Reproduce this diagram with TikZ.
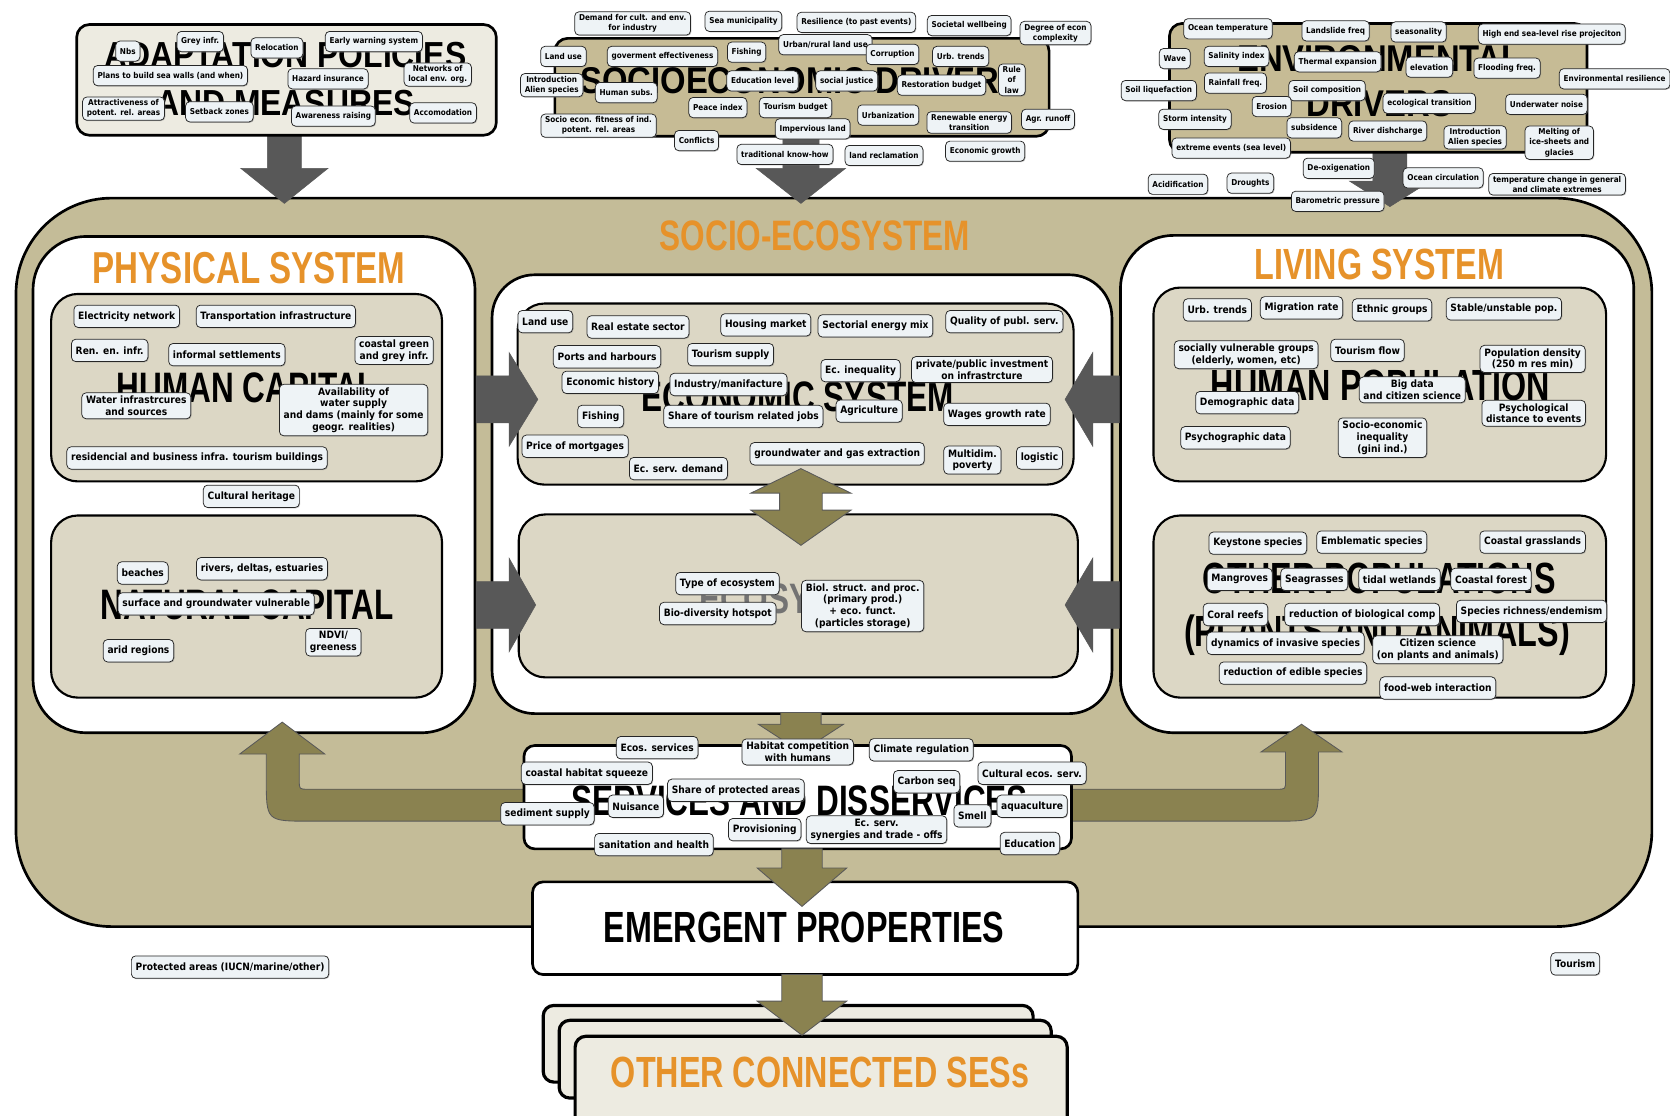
\documentclass[tikz,border=0pt]{standalone}
\usepackage{fontspec}
\usepackage{graphicx}
\setmainfont{DejaVu Sans}
\newfontfamily\lblfont{DejaVu Sans}[FakeStretch=0.9]
\newfontfamily\ttlfont{Liberation Sans}
\usetikzlibrary{shadows}
\definecolor{tanO}{HTML}{C4BC98}
\definecolor{tanD}{HTML}{C6BB95}
\definecolor{beigeP}{HTML}{DCD7C5}
\definecolor{creamP}{HTML}{EDEBE1}
\definecolor{lblfill}{HTML}{EEF3F6}
\definecolor{olivearr}{HTML}{8A8250}
\definecolor{darkarr}{HTML}{585858}
\definecolor{orangeT}{HTML}{E6922A}
\newcommand{\BigT}[3]{\scalebox{#1}[1]{\ttlfont\bfseries\fontsize{#2}{#2}\selectfont #3}}
\newcommand{\DArrow}[7]{\filldraw[#1] ({#2-#6},#3) -- ({#2+#6},#3) -- ({#2+#6},#4) -- ({#2+#7},#4) -- (#2,#5) -- ({#2-#7},#4) -- ({#2-#6},#4) -- cycle;}
\newcommand{\HArrow}[7]{\filldraw[#1] (#3,{#2-#6}) -- (#4,{#2-#6}) -- (#4,{#2-#7}) -- (#5,#2) -- (#4,{#2+#7}) -- (#4,{#2+#6}) -- (#3,{#2+#6}) -- cycle;}
\begin{document}
\begin{tikzpicture}[x=1pt,y=-1pt,
  lbl/.style={draw=black!85, line width=0.7pt, fill=lblfill, rounded corners=4pt,
    font=\lblfont\bfseries\fontsize{9.5}{11}\selectfont, align=center,
    inner xsep=4pt, inner ysep=3pt, minimum height=21pt,
    drop shadow={shadow xshift=0.8pt, shadow yshift=-0.8pt, fill=black!50}},
  slbl/.style={lbl, font=\lblfont\bfseries\fontsize{7.6}{9.5}\selectfont, minimum height=19pt, inner ysep=2.5pt},
  bt/.style={inner sep=0pt},
  darkA/.style={fill=darkarr, draw=darkarr, line width=0.5pt},
  oliveA/.style={fill=olivearr, draw=black!65, line width=0.8pt},
  bigbox/.style={draw=black, line width=2.5pt},
  subpanel/.style={draw=black, line width=2pt, fill=beigeP, rounded corners=25pt}
]
\useasboundingbox (0,0) rectangle (1568,1047);
\clip (0,0) rectangle (1568,1047);
\fill[white] (0,0) rectangle (1568,1047);

% outer socio-ecosystem
\filldraw[bigbox, fill=tanO, rounded corners=90pt] (15,186) rectangle (1551,870);
\node[bt, text=orangeT] (tSES) at (765,221) {\BigT{0.74}{40}{SOCIO-ECOSYSTEM}};

% top dark arrows
\DArrow{darkA}{267}{120}{158}{191}{16}{41}
\DArrow{darkA}{752}{120}{158}{191}{17}{42}
\DArrow{darkA}{1305}{140}{170}{194}{16}{38}

% top boxes
\filldraw[bigbox, fill=creamP, rounded corners=12pt] (72,23) rectangle (466,127);
\node[bt] (tAP1) at (268,52) {\BigT{0.88}{34}{ADAPTATION POLICIES}};
\node[bt] (tAP2) at (268,97) {\BigT{0.88}{34}{AND MEASURES}};
\filldraw[bigbox, fill=tanD, rounded corners=12pt] (521,36) rectangle (985,128);
\node[bt] (tSD) at (752,76) {\BigT{0.88}{35}{SOCIOECONOMIC DRIVERS}};
\filldraw[bigbox, fill=tanD, rounded corners=12pt] (1098,22) rectangle (1490,143);
\node[bt] (tED1) at (1295,55) {\BigT{0.88}{35}{ENVIRONMENTAL}};
\node[bt] (tED2) at (1295,97) {\BigT{0.88}{35}{DRIVERS}};

% white panels
\filldraw[bigbox, fill=white, rounded corners=50pt] (31,222) rectangle (446,688);
\filldraw[bigbox, fill=white, rounded corners=40pt] (462,258) rectangle (1044,670);
\filldraw[bigbox, fill=white, rounded corners=50pt] (1052,221) rectangle (1534,688);
\node[bt, text=orangeT] (tPS) at (234,252) {\BigT{0.74}{42}{PHYSICAL SYSTEM}};
\node[bt, text=orangeT] (tLS) at (1295,248) {\BigT{0.74}{41}{LIVING SYSTEM}};

% sub panels
\filldraw[subpanel] (48,276) rectangle (415,452);
\filldraw[subpanel] (48,484) rectangle (415,655);
\filldraw[subpanel] (486,285) rectangle (1008,455);
\filldraw[subpanel] (487,483) rectangle (1012,636);
\filldraw[subpanel] (1083,270) rectangle (1508,452);
\filldraw[subpanel] (1083,484) rectangle (1508,655);
\node[bt] (tHC) at (232,364) {\BigT{0.74}{40}{HUMAN CAPITAL}};
\node[bt] (tNC) at (232,568) {\BigT{0.74}{40}{NATURAL CAPITAL}};
\node[bt] (tES) at (749,373) {\BigT{0.74}{40}{ECONOMIC SYSTEM}};
\node[bt, text=black!55] (tEC) at (750,562) {\BigT{0.74}{40}{ECOSYSTEM}};
\node[bt] (tHP) at (1296,362) {\BigT{0.74}{41}{HUMAN POPULATION}};
\node[bt] (tOP1) at (1295,543) {\BigT{0.74}{41}{OTHER POPULATIONS}};
\node[bt] (tOP2) at (1293,596) {\BigT{0.74}{41}{(PLANTS AND ANIMALS)}};

% curved olive arrows
\filldraw[oliveA] (225,708) -- (265,678) -- (305,708) -- (281,708) -- (281,733) .. controls (281,741) .. (289,741) -- (500,741) -- (500,771) -- (290,771) .. controls (250,771) .. (250,731) -- (250,708) -- cycle;
\filldraw[oliveA] (1260,706) -- (1222,680) -- (1184,706) -- (1207,706) -- (1207,733) .. controls (1207,741) .. (1199,741) -- (1000,741) -- (1000,771) -- (1198,771) .. controls (1238,771) .. (1238,731) -- (1238,706) -- cycle;

% side dark arrows
\HArrow{darkA}{375}{447}{478}{505}{22}{44}
\HArrow{darkA}{568}{447}{478}{503}{22}{44}
\HArrow{darkA}{375}{1051}{1026}{1000}{22}{44}
\HArrow{darkA}{568}{1051}{1026}{1000}{22}{44}

% double olive arrow
\filldraw[oliveA] (752,440) -- (799,463) -- (772,463) -- (772,479) -- (799,479) -- (752,512) -- (705,479) -- (732,479) -- (732,463) -- (705,463) -- cycle;

% services box
\filldraw[bigbox, fill=white, rounded corners=10pt] (492,700) rectangle (1006,797);
\node[bt] (tSV) at (751,752) {\BigT{0.74}{40}{SERVICES AND DISSERVICES}};
\DArrow{oliveA}{752}{669}{680}{706}{19}{40}

% emergent properties
\filldraw[bigbox, fill=white, rounded corners=10pt] (500,828) rectangle (1012,915);
\node[bt] (tEP) at (755,871) {\BigT{0.74}{41}{EMERGENT PROPERTIES}};

% other connected SESs
\filldraw[draw=black, line width=3pt, fill=creamP, rounded corners=10pt] (510,944) rectangle (970,1016);
\filldraw[draw=black, line width=3pt, fill=creamP, rounded corners=10pt] (525,958) rectangle (987,1031);
\filldraw[draw=black, line width=3pt, fill=creamP, rounded corners=10pt] (540,973) rectangle (1002,1070);
\node[bt, text=orangeT] (tOC) at (770,1007) {\BigT{0.74}{41}{OTHER CONNECTED SESs}};

\DArrow{oliveA}{753}{797}{815}{851}{19}{42}
\DArrow{oliveA}{753}{915}{940}{972}{19}{42}

% ---------- labels: adaptation ----------
\node[slbl] (a1) at (120,48) {Nbs};
\node[slbl] (a2) at (188,39) {Grey infr.};
\node[slbl] (a3) at (260,45) {Relocation};
\node[slbl] (a4) at (351,39) {Early warning system};
\node[slbl] (a5) at (160,71) {Plans to build sea walls (and when)};
\node[slbl] (a6) at (308,74) {Hazard insurance};
\node[slbl] (a7) at (411,70) {Networks of\\local env. org.};
\node[slbl] (a8) at (116,102) {Attractiveness of\\potent. rel. areas};
\node[slbl] (a9) at (206,105) {Setback zones};
\node[slbl] (a10) at (313,109) {Awareness raising};
\node[slbl] (a11) at (416,106) {Accomodation};

% ---------- labels: socioeconomic ----------
\node[slbl] (s1) at (594,22) {Demand for cult. and env.\\for industry};
\node[slbl] (s2) at (698,20) {Sea municipality};
\node[slbl] (s3) at (804,21) {Resilience (to past events)};
\node[slbl] (s4) at (910,24) {Societal wellbeing};
\node[slbl] (s5) at (991,31) {Degree of econ\\complexity};
\node[slbl] (s6) at (775,42) {Urban/rural land use};
\node[slbl] (s7) at (529,53) {Land use};
\node[slbl] (s8) at (622,53) {goverment effectiveness};
\node[slbl] (s9) at (701,49) {Fishing};
\node[slbl] (s10) at (838,51) {Corruption};
\node[slbl] (s11) at (902,53) {Urb. trends};
\node[slbl] (s12) at (950,75) {Rule\\of\\law};
\node[slbl] (s13) at (518,80) {Introduction\\Alien species};
\node[slbl] (s14) at (588,87) {Human subs.};
\node[slbl] (s15) at (716,76) {Education level};
\node[slbl] (s16) at (795,76) {social justice};
\node[slbl] (s17) at (884,80) {Restoration budget};
\node[slbl] (s18) at (674,101) {Peace index};
\node[slbl] (s19) at (747,101) {Tourism budget};
\node[slbl] (s20) at (834,108) {Urbanization};
\node[slbl] (s21) at (910,115) {Renewable energy\\transition};
\node[slbl] (s22) at (984,112) {Agr. runoff};
\node[slbl] (s23) at (562,118) {Socio econ. fitness of ind.\\potent. rel. areas};
\node[slbl] (s24) at (763,121) {Impervious land};
\node[slbl] (s25) at (654,132) {Conflicts};
\node[slbl] (s26) at (737,145) {traditional know-how};
\node[slbl] (s27) at (830,146) {land reclamation};
\node[slbl] (s28) at (925,142) {Economic growth};

% ---------- labels: environmental ----------
\node[slbl] (e1) at (1153,27) {Ocean temperature};
\node[slbl] (e2) at (1254,29) {Landslide freq};
\node[slbl] (e3) at (1332,30) {seasonality};
\node[slbl] (e4) at (1457,32) {High end sea-level rise projeciton};
\node[slbl] (e5) at (1103,55) {Wave};
\node[slbl] (e6) at (1161,53) {Salinity index};
\node[slbl] (e7) at (1256,58) {Thermal expansion};
\node[slbl] (e8) at (1342,63) {elevation};
\node[slbl] (e9) at (1415,64) {Flooding freq.};
\node[slbl] (e10) at (1516,74) {Environmental resilience};
\node[slbl] (e11) at (1088,85) {Soil liquefaction};
\node[slbl] (e12) at (1160,78) {Rainfall freq.};
\node[slbl] (e13) at (1246,85) {Soil composition};
\node[slbl] (e14) at (1194,100) {Erosion};
\node[slbl] (e15) at (1342,97) {ecological transition};
\node[slbl] (e16) at (1452,98) {Underwater noise};
\node[slbl] (e17) at (1122,112) {Storm intensity};
\node[slbl] (e18) at (1234,120) {subsidence};
\node[slbl] (e19) at (1303,123) {River dishcharge};
\node[slbl] (e20) at (1385,129) {Introduction\\Alien species};
\node[slbl] (e21) at (1464,134) {Melting of\\ice-sheets and\\glacies};
\node[slbl] (e22) at (1156,139) {extreme events (sea level)};
\node[slbl] (e23) at (1257,158) {De-oxigenation};
\node[slbl] (e24) at (1355,167) {Ocean circulation};
\node[slbl] (e25) at (1462,173) {temperature change in general\\and climate extremes};
\node[slbl] (e26) at (1106,173) {Acidification};
\node[slbl] (e27) at (1174,172) {Droughts};
\node[slbl] (e28) at (1256,189) {Barometric pressure};

% ---------- labels: physical ----------
\node[lbl] (p1) at (119,297) {Electricity network};
\node[lbl] (p2) at (259,297) {Transportation infrastructure};
\node[lbl] (p3) at (103,329) {Ren. en. infr.};
\node[lbl] (p4) at (213,333) {informal settlements};
\node[lbl] (p5) at (370,329) {coastal green\\and grey infr.};
\node[lbl] (p6) at (128,381) {Water infrastrcures\\and sources};
\node[lbl] (p7) at (332,385) {Availability of\\water supply\\and dams (mainly for some\\geogr. realities)};
\node[lbl] (p8) at (185,430) {residencial and business infra. tourism buildings};
\node[lbl] (p9) at (236,466) {Cultural heritage};
\node[lbl] (p10) at (134,538) {beaches};
\node[lbl] (p11) at (246,534) {rivers, deltas, estuaries};
\node[lbl] (p12) at (203,567) {surface and groundwater vulnerable};
\node[lbl] (p13) at (130,611) {arid regions};
\node[lbl] (p14) at (313,603) {NDVI/\\greeness};

% ---------- labels: economic ----------
\node[lbl] (c1) at (512,302) {Land use};
\node[lbl] (c2) at (599,307) {Real estate sector};
\node[lbl] (c3) at (719,305) {Housing market};
\node[lbl] (c4) at (822,306) {Sectorial energy mix};
\node[lbl] (c5) at (943,302) {Quality of publ. serv.};
\node[lbl] (c6) at (570,335) {Ports and harbours};
\node[lbl] (c7) at (686,333) {Tourism supply};
\node[lbl] (c8) at (808,348) {Ec. inequality};
\node[lbl] (c9) at (922,347) {private/public investment\\on infrastrcture};
\node[lbl] (c10) at (573,359) {Economic history};
\node[lbl] (c11) at (684,361) {Industry/manifacture};
\node[lbl] (c12) at (564,391) {Fishing};
\node[lbl] (c13) at (698,391) {Share of tourism related jobs};
\node[lbl] (c14) at (816,386) {Agriculture};
\node[lbl] (c15) at (936,389) {Wages growth rate};
\node[lbl] (c16) at (540,419) {Price of mortgages};
\node[lbl] (c17) at (637,440) {Ec. serv. demand};
\node[lbl] (c18) at (786,426) {groundwater and gas extraction};
\node[lbl] (c19) at (913,432) {Multidim.\\poverty};
\node[lbl] (c20) at (976,430) {logistic};

% ---------- labels: ecosystem ----------
\node[lbl] (y1) at (683,548) {Type of ecosystem};
\node[lbl] (y2) at (674,576) {Bio-diversity hotspot};
\node[lbl] (y3) at (810,569) {Biol. struct. and proc.\\(primary prod.)\\+ eco. funct.\\(particles storage)};

% ---------- labels: living ----------
\node[lbl] (h1) at (1143,291) {Urb. trends};
\node[lbl] (h2) at (1222,289) {Migration rate};
\node[lbl] (h3) at (1307,291) {Ethnic groups};
\node[lbl] (h4) at (1412,290) {Stable/unstable pop.};
\node[lbl] (h5) at (1170,333) {socially vulnerable groups\\(elderly, women, etc)};
\node[lbl] (h6) at (1284,329) {Tourism flow};
\node[lbl] (h7) at (1439,337) {Population density\\(250 m res min)};
\node[lbl] (h8) at (1326,366) {Big data\\and citizen science};
\node[lbl] (h9) at (1171,378) {Demographic data};
\node[lbl] (h10) at (1440,388) {Psychological\\distance to events};
\node[lbl] (h11) at (1160,411) {Psychographic data};
\node[lbl] (h12) at (1298,411) {Socio-economic\\inequality\\(gini ind.)};
\node[lbl] (o1) at (1181,510) {Keystone species};
\node[lbl] (o2) at (1288,509) {Emblematic species};
\node[lbl] (o3) at (1439,509) {Coastal grasslands};
\node[lbl] (o4) at (1164,544) {Mangroves};
\node[lbl] (o5) at (1234,544) {Seagrasses};
\node[lbl] (o6) at (1314,544) {tidal wetlands};
\node[lbl] (o7) at (1400,544) {Coastal forest};
\node[lbl] (o8) at (1160,577) {Coral reefs};
\node[lbl] (o9) at (1279,577) {reduction of biological comp};
\node[lbl] (o10) at (1438,574) {Species richness/endemism};
\node[lbl] (o11) at (1207,604) {dynamics of invasive species};
\node[lbl] (o12) at (1350,610) {Citizen science\\(on plants and animals)};
\node[lbl] (o13) at (1214,632) {reduction of edible species};
\node[lbl] (o14) at (1350,646) {food-web interaction};

% ---------- labels: services ----------
\node[lbl] (v1) at (617,702) {Ecos. services};
\node[lbl] (v2) at (749,706) {Habitat competition\\with humans};
\node[lbl] (v3) at (865,704) {Climate regulation};
\node[lbl] (v4) at (551,726) {coastal habitat squeeze};
\node[lbl] (v5) at (969,726) {Cultural ecos. serv.};
\node[lbl] (v6) at (691,742) {Share of protected areas};
\node[lbl] (v7) at (870,734) {Carbon seq};
\node[lbl] (v8) at (597,757) {Nuisance};
\node[lbl] (v9) at (514,764) {sediment supply};
\node[lbl] (v10) at (913,766) {Smell};
\node[lbl] (v11) at (969,757) {aquaculture};
\node[lbl] (v12) at (718,779) {Provisioning};
\node[lbl] (v13) at (823,779) {Ec. serv.\\synergies and trade - offs};
\node[lbl] (v14) at (614,793) {sanitation and health};
\node[lbl] (v15) at (967,792) {Education};

% ---------- loose labels ----------
\node[lbl] (l1) at (216,908) {Protected areas (IUCN/marine/other)};
\node[lbl] (l2) at (1479,905) {Tourism};
\end{tikzpicture}
\end{document}
